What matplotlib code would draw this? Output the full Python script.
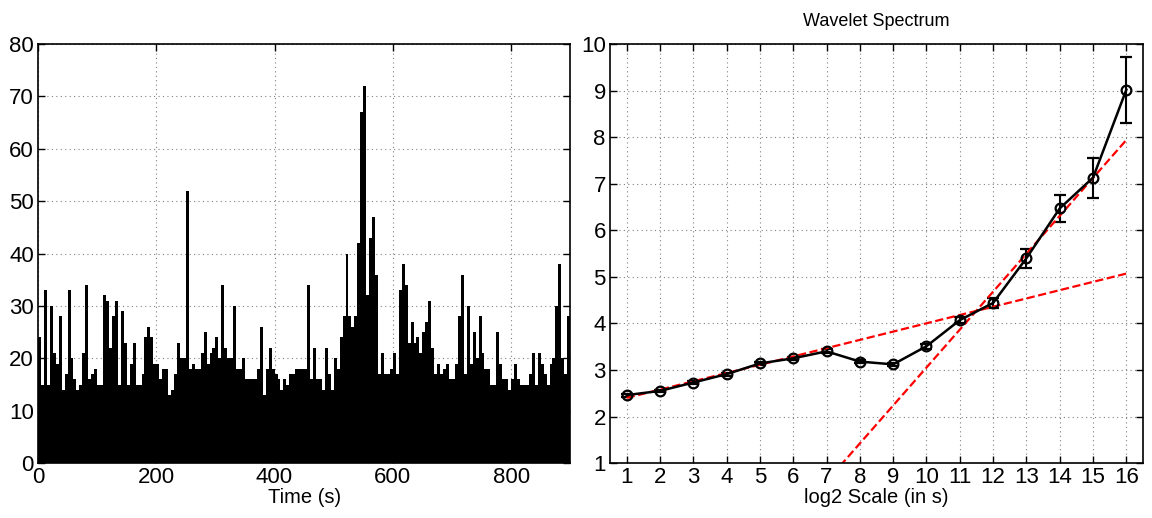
import numpy as np
import matplotlib
matplotlib.use('Agg')
import matplotlib.pyplot as plt

plt.rcParams['font.family'] = ['Liberation Sans', 'DejaVu Sans']

# left panel: signal envelope in 5 s bins, starting at t = 0
bin_width = 5
signal = [24, 15, 33, 15, 30, 21, 19, 28, 14, 17,
          33, 20, 16, 14, 15, 21, 34, 16, 17, 18,
          15, 15, 32, 31, 22, 28, 31, 15, 29, 23,
          15, 19, 23, 15, 15, 17, 24, 26, 24, 19,
          19, 16, 18, 18, 13, 14, 17, 23, 20, 20,
          52, 18, 19, 18, 18, 21, 25, 19, 21, 22,
          24, 20, 34, 22, 20, 20, 30, 18, 18, 20,
          16, 16, 16, 16, 18, 26, 13, 18, 22, 18,
          17, 16, 14, 16, 15, 17, 17, 18, 18, 18,
          18, 34, 16, 22, 16, 16, 14, 22, 17, 14,
          20, 18, 24, 28, 40, 28, 26, 28, 42, 67,
          72, 32, 43, 47, 36, 17, 21, 17, 17, 18,
          21, 17, 33, 38, 34, 23, 27, 23, 24, 21,
          25, 27, 31, 22, 17, 19, 17, 18, 19, 16,
          16, 19, 28, 36, 17, 30, 19, 25, 20, 28,
          21, 18, 18, 15, 15, 25, 19, 16, 16, 14,
          16, 19, 16, 15, 15, 15, 17, 21, 15, 21,
          19, 17, 15, 19, 20, 30, 38, 20, 17, 28]
t_start = np.arange(len(signal)) * bin_width

# right panel: wavelet spectrum
scales = np.arange(1, 17)
spectrum = [2.46, 2.55, 2.73, 2.91, 3.14, 3.25, 3.40, 3.18,
            3.12, 3.51, 4.07, 4.44, 5.40, 6.47, 7.13, 9.02]
spec_err = [0.03, 0.03, 0.03, 0.03, 0.03, 0.03, 0.04, 0.04,
            0.04, 0.05, 0.07, 0.11, 0.20, 0.29, 0.43, 0.71]
fit1_x = [1, 16]
fit1_y = [2.40, 5.07]
fit2_x = [1, 16]
fit2_y = [-4.28, 7.94]

fig = plt.figure(figsize=(11.52, 5.18), dpi=100)
ax1 = fig.add_axes([0.033, 0.106, 0.462, 0.809])
ax2 = fig.add_axes([0.5295, 0.106, 0.4627, 0.809])

ax1.bar(t_start, signal, width=bin_width, align='edge', color='black',
        edgecolor='none', linewidth=0)
ax1.set_xlim(0, 900)
ax1.set_ylim(0, 80)
ax1.set_xticks([0, 200, 400, 600, 800])
ax1.set_yticks(range(0, 81, 10))
ax1.set_xlabel('Time (s)', fontsize=14.5, labelpad=0)

ax2.errorbar(scales, spectrum, yerr=spec_err, color='black', lw=1.8,
             marker='o', markersize=7, markerfacecolor='none',
             markeredgewidth=1.6, capsize=4, capthick=1.5, elinewidth=1.5)
ax2.plot(fit1_x, fit1_y, '--', color='red', lw=1.6)
ax2.plot(fit2_x, fit2_y, '--', color='red', lw=1.6)
ax2.set_xlim(0.5, 16.5)
ax2.set_ylim(1, 10)
ax2.set_xticks(scales)
ax2.set_yticks(range(1, 11))
ax2.set_xlabel('log2 Scale (in s)', fontsize=14.5, labelpad=0)
ax2.set_title('Wavelet Spectrum', fontsize=13, pad=13)

for ax in (ax1, ax2):
    ax.grid(True, linestyle=(0, (1, 3)), color='0.5', linewidth=0.8)
    ax.set_axisbelow(True)
    ax.tick_params(direction='in', top=True, right=True, length=5,
                   width=1, labelsize=16, pad=3)
    for s in ax.spines.values():
        s.set_linewidth(1.2)
        s.set_zorder(5)

fig.savefig('out.png', dpi=100)
